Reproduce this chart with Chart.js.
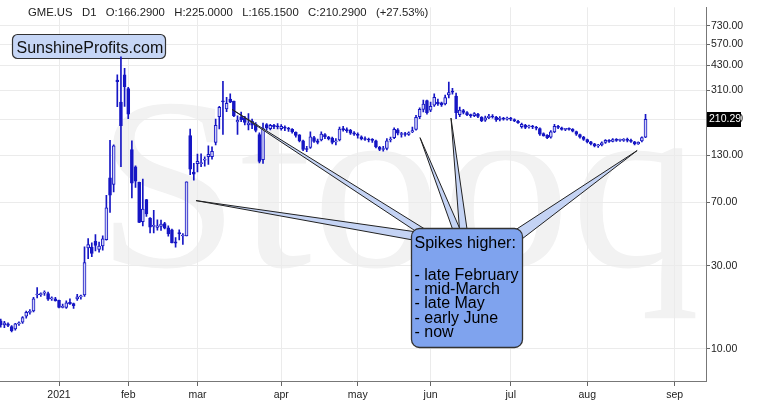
<!DOCTYPE html>
<html>
<head>
<meta charset="utf-8">
<script src="https://cdn.jsdelivr.net/npm/chart.js@4.4.0/dist/chart.umd.min.js"></script>
<style>
  html, body { margin: 0; padding: 0; background: #fff; }
</style>
</head>
<body>
<canvas id="chart" width="765" height="411"></canvas>
<script>
// GME.US D1 - candles (Dec 9 2020 .. Aug 24 2021)
const dates = [
  '2020-12-09','2020-12-10','2020-12-11','2020-12-14','2020-12-15','2020-12-16','2020-12-17','2020-12-18',
  '2020-12-21','2020-12-22','2020-12-23','2020-12-24','2020-12-28','2020-12-29','2020-12-30','2020-12-31',
  '2021-01-04','2021-01-05','2021-01-06','2021-01-07','2021-01-08','2021-01-11','2021-01-12','2021-01-13',
  '2021-01-14','2021-01-15','2021-01-19','2021-01-20','2021-01-21','2021-01-22','2021-01-25','2021-01-26',
  '2021-01-27','2021-01-28','2021-01-29','2021-02-01','2021-02-02','2021-02-03','2021-02-04','2021-02-05',
  '2021-02-08','2021-02-09','2021-02-10','2021-02-11','2021-02-12','2021-02-16','2021-02-17','2021-02-18',
  '2021-02-19','2021-02-22','2021-02-23','2021-02-24','2021-02-25','2021-02-26','2021-03-01','2021-03-02',
  '2021-03-03','2021-03-04','2021-03-05','2021-03-08','2021-03-09','2021-03-10','2021-03-11','2021-03-12',
  '2021-03-15','2021-03-16','2021-03-17','2021-03-18','2021-03-19','2021-03-22','2021-03-23','2021-03-24',
  '2021-03-25','2021-03-26','2021-03-29','2021-03-30','2021-03-31','2021-04-01','2021-04-05','2021-04-06',
  '2021-04-07','2021-04-08','2021-04-09','2021-04-12','2021-04-13','2021-04-14','2021-04-15','2021-04-16',
  '2021-04-19','2021-04-20','2021-04-21','2021-04-22','2021-04-23','2021-04-26','2021-04-27','2021-04-28',
  '2021-04-29','2021-04-30','2021-05-03','2021-05-04','2021-05-05','2021-05-06','2021-05-07','2021-05-10',
  '2021-05-11','2021-05-12','2021-05-13','2021-05-14','2021-05-17','2021-05-18','2021-05-19','2021-05-20',
  '2021-05-21','2021-05-24','2021-05-25','2021-05-26','2021-05-27','2021-05-28','2021-06-01','2021-06-02',
  '2021-06-03','2021-06-04','2021-06-07','2021-06-08','2021-06-09','2021-06-10','2021-06-11','2021-06-14',
  '2021-06-15','2021-06-16','2021-06-17','2021-06-18','2021-06-21','2021-06-22','2021-06-23','2021-06-24',
  '2021-06-25','2021-06-28','2021-06-29','2021-06-30','2021-07-01','2021-07-02','2021-07-06','2021-07-07',
  '2021-07-08','2021-07-09','2021-07-12','2021-07-13','2021-07-14','2021-07-15','2021-07-16','2021-07-19',
  '2021-07-20','2021-07-21','2021-07-22','2021-07-23','2021-07-26','2021-07-27','2021-07-28','2021-07-29',
  '2021-07-30','2021-08-02','2021-08-03','2021-08-04','2021-08-05','2021-08-06','2021-08-09','2021-08-10',
  '2021-08-11','2021-08-12','2021-08-13','2021-08-16','2021-08-17','2021-08-18','2021-08-19','2021-08-20',
  '2021-08-23','2021-08-24'
];
const opens = [
  14.5,13.7,13.9,13.4,13.0,13.9,14.2,15.4, 16.2,16.5,20.4,20.5,20.9,20.8,19.4,19.4,
  19.0,17.3,17.3,18.5,18.2,19.4,19.9,20.4, 38.1,38.5,41.6,37.4,39.2,42.6,96.7,88.6,
  354.8,265.0,379.7,316.6,140.8,112.0,91.2,54.0, 72.4,56.6,50.8,50.0,50.8,52.7,49.8,48.5,
  41.3,46.7,44.7,44.7,169.6,104.5,116.9,116.9, 122.5,128.2,128.2,154.9,217.7,269.4,241.6,275.0,
  268.0,203.2,217.8,214.0,195.7,205.3,197.5,172.0, 123.0,196.0,186.0,194.0,193.0,186.0,190.0,187.0,
  184.0,177.0,171.0,158.0,142.0,145.0,165.0,158.0, 160.0,172.0,166.0,164.0,156.0,160.0,186.0,183.0,
  182.0,176.0,173.0,167.0,163.0,161.0,160.0,158.0, 145.0,141.0,143.0,160.0,165.0,183.0,172.0,173.0,
  172.0,178.0,184.0,218.0,240.0,270.0,238.0,254.0, 265.0,262.0,258.0,291.0,304.0,287.0,224.0,236.0,
  230.0,224.0,221.0,226.0,216.0,208.0,215.0,220.0, 217.0,210.0,214.0,211.0,213.0,210.0,205.0,191.0,
  194.0,190.0,192.0,189.0,186.0,174.0,170.0,166.0, 178.0,191.0,188.0,184.0,185.0,184.0,179.0,172.0,
  166.0,161.0,156.0,152.0,148.0,150.0,155.0,159.0, 157.0,161.0,159.0,159.0,161.0,159.0,156.0,152.0,
  158.0,166.29
];
const highs = [
  14.8,14.4,14.1,13.6,14.0,14.3,15.3,16.5, 16.8,19.8,22.5,21.0,21.6,21.2,19.9,19.8,
  19.1,18.1,18.9,19.4,18.3,20.6,20.4,38.7, 43.1,40.8,45.5,41.2,44.8,76.8,159.2,150.0,
  380.0,483.0,414.0,322.0,158.0,113.4,91.5,95.0, 72.7,57.0,62.8,55.3,55.2,53.5,51.2,48.9,
  43.8,48.5,46.2,91.7,184.7,117.2,132.8,133.2, 127.9,147.9,146.0,210.9,249.9,348.5,281.5,295.5,
  268.0,220.7,231.5,218.9,227.0,210.9,201.7,176.0, 200.0,199.0,197.0,197.0,199.0,196.0,193.0,189.0,
  186.0,178.0,172.0,160.0,147.0,178.0,168.0,162.0, 178.0,174.0,168.0,166.0,163.0,190.0,192.0,188.0,
  184.0,179.0,176.0,169.0,167.0,164.0,163.0,160.0, 147.0,147.0,163.0,166.0,188.0,186.0,177.0,177.0,
  178.0,190.0,222.0,245.0,272.0,272.0,265.0,295.0, 275.0,265.0,290.0,345.0,318.0,298.0,248.0,240.0,
  233.0,226.0,230.0,228.0,218.0,220.0,225.0,224.0, 219.0,218.0,216.0,217.0,216.0,212.0,208.0,200.0,
  197.0,195.0,194.0,192.0,188.0,176.0,172.0,181.0, 197.0,194.0,190.0,187.0,188.0,186.0,180.0,173.0,
  168.0,162.0,157.0,153.0,151.0,156.0,161.0,161.0, 163.0,163.0,162.0,163.0,164.0,162.0,157.0,156.0,
  167.0,225.0
];
const lows = [
  13.3,13.2,13.4,12.5,12.8,13.6,14.0,15.0, 15.8,16.3,19.6,20.0,20.3,19.0,19.0,18.8,
  17.2,17.2,17.1,18.0,17.1,19.0,19.3,20.0, 33.1,34.0,36.6,36.1,37.0,42.3,61.1,80.2,
  249.0,112.3,250.0,212.0,74.2,85.3,53.3,51.1, 58.0,46.5,46.6,48.2,48.1,49.0,44.6,40.7,
  38.5,42.4,40.0,44.7,101.0,93.7,104.5,112.2, 113.0,115.7,124.0,150.0,185.2,172.4,232.6,262.3,
  218.1,172.4,204.0,195.7,182.7,186.1,178.0,118.0, 117.0,182.0,183.0,186.0,185.0,182.0,181.0,179.0,
  175.0,166.0,156.0,139.0,137.0,143.0,155.0,152.0, 158.0,163.0,160.0,152.0,150.0,158.0,180.0,177.0,
  172.0,170.0,164.0,160.0,159.0,156.0,155.0,144.0, 139.0,138.0,140.0,156.0,163.0,171.0,166.0,168.0,
  170.0,176.0,182.0,212.0,232.0,225.0,233.0,250.0, 253.0,250.0,255.0,280.0,294.0,212.0,218.0,226.0,
  221.0,216.0,218.0,215.0,204.0,205.0,212.0,214.0, 205.0,206.0,208.0,208.0,207.0,204.0,199.0,187.0,
  186.0,187.0,186.0,183.0,170.0,168.0,163.0,164.0, 176.0,186.0,182.0,181.0,182.0,178.0,170.0,164.0,
  159.0,154.0,150.0,146.0,145.0,148.0,153.0,155.0, 156.0,157.0,157.0,157.0,156.0,155.0,150.0,151.0,
  156.0,165.15
];
const closes = [
  13.7,14.1,13.6,12.7,13.9,14.1,15.1,16.2, 16.4,19.4,20.6,20.7,21.0,19.3,19.5,18.9,
  17.3,17.4,18.4,18.1,17.7,19.9,19.95,31.4, 39.9,35.5,39.4,39.1,43.0,65.0,76.8,148.0,
  347.5,193.6,325.0,225.0,90.0,92.4,53.5,63.8, 60.0,50.3,51.2,51.1,52.4,49.5,45.9,40.7,
  40.6,46.0,45.0,91.7,108.7,101.7,120.4,118.2, 124.2,132.4,137.7,194.5,246.9,265.0,260.0,264.5,
  220.1,208.2,209.8,201.8,200.3,194.5,181.8,120.3, 186.0,188.0,194.0,190.0,190.0,192.0,187.0,184.5,
  178.0,170.0,158.0,141.0,141.0,167.0,157.0,155.0, 173.0,167.0,163.0,155.0,158.0,185.0,183.0,181.0,
  175.0,173.0,170.0,162.0,161.0,160.0,159.0,146.0, 141.0,142.0,158.0,161.0,184.0,175.0,172.0,172.0,
  176.0,181.0,216.0,240.0,258.0,230.0,250.0,282.0, 258.0,255.0,281.0,300.0,302.0,230.0,238.0,231.0,
  224.0,221.0,227.0,219.0,207.0,215.0,220.0,217.0, 209.0,214.0,211.0,214.0,211.0,206.0,201.0,197.0,
  189.0,193.0,190.0,187.0,173.0,169.0,165.0,178.0, 192.0,189.0,184.0,185.0,184.0,180.0,173.0,166.0,
  161.0,156.0,152.0,148.0,149.0,154.0,159.0,157.0, 161.0,159.0,160.5,161.0,159.0,157.0,152.0,155.0,
  164.9,210.29
];

// x axis: candle positions of the month ticks (index into the arrays above)
const monthPos = [16, 35, 54, 77, 98, 118, 140, 161, 185];
const monthLabels = ['2021', 'feb', 'mar', 'apr', 'may', 'jun', 'jul', 'aug', 'sep'];
const priceTicks = [10, 30, 70, 130, 210, 310, 430, 570, 730];

// callout
const calloutTitle = 'Spikes higher:';
const calloutItems = ['- late February', '- mid-March', '- late May', '- early June', '- now'];
const spikePos = [53.6, 63.5, 115.1, 123.6, 174.7];
const spikePrice = [71.5, 240, 165, 214, 139];

const BLUE = '#1616c4';
const UP_FILL = '#cfd0f6';

const idx = opens.map((_, i) => i);
const wickData = idx.map(i => ({ x: i, y: [lows[i], highs[i]] }));
const bodyData = idx.map(i => ({ x: i, y: [Math.min(opens[i], closes[i]), Math.max(opens[i], closes[i])] }));
const bodyFill = idx.map(i => closes[i] >= opens[i] ? UP_FILL : BLUE);

function roundRect(ctx, x, y, w, h, r) {
  ctx.beginPath();
  ctx.moveTo(x + r, y);
  ctx.arcTo(x + w, y, x + w, y + h, r);
  ctx.arcTo(x + w, y + h, x, y + h, r);
  ctx.arcTo(x, y + h, x, y, r);
  ctx.arcTo(x, y, x + w, y, r);
  ctx.closePath();
}

// pixels where each pointer meets the callout box
const box = { x: 411.5, y: 228.5, w: 111, h: 119, r: 8 };
const pointerBase = [
  [424, 233, 424, 242],
  [423, 236, 436, 236],
  [455, 236, 463, 236],
  [460, 236, 468, 236],
  [506, 236, 518, 242]
];

const decor = {
  id: 'decor',
  beforeDraw(chart) {
    const { ctx, chartArea: a } = chart;
    ctx.save();
    ctx.fillStyle = '#fff';
    ctx.fillRect(0, 0, chart.width, chart.height);
    // watermark
    ctx.beginPath();
    ctx.rect(a.left, a.top, a.right - a.left, a.bottom - a.top);
    ctx.clip();
    ctx.font = '245px "Liberation Serif", serif';
    ctx.fillStyle = '#f2f2f2';
    const w = ctx.measureText('Stooq').width;
    ctx.translate(96, 266);
    ctx.scale(604 / w, 1);
    ctx.fillText('Stooq', 0, 0);
    ctx.restore();
  },
  beforeDatasetsDraw(chart) {
    const { ctx } = chart;
    ctx.save();
    // site box sits under the candles
    roundRect(ctx, 12.5, 34.5, 153, 24, 5);
    ctx.fillStyle = '#c6d6f6';
    ctx.fill();
    ctx.strokeStyle = '#333';
    ctx.lineWidth = 1.2;
    ctx.stroke();
    ctx.fillStyle = '#111';
    ctx.font = '16px "Liberation Sans", Arial, sans-serif';
    ctx.fillText('SunshineProfits.com', 16.5, 52.5);

    // header
    const n = closes.length - 1;
    const chg = (closes[n] / closes[n - 1] - 1) * 100;
    const head = 'GME.US   D1   O:' + opens[n].toFixed(4) + '   H:' + highs[n].toFixed(4) +
      '   L:' + lows[n].toFixed(4) + '   C:' + closes[n].toFixed(4) + '   (+' + chg.toFixed(2) + '%)';
    ctx.font = '11.3px "Liberation Sans", Arial, sans-serif';
    ctx.fillStyle = '#222';
    ctx.fillText(head, 28, 16);
    ctx.restore();
  },
  afterDatasetsDraw(chart) {
    const { ctx } = chart;
    const xs = chart.scales.x, ys = chart.scales.y;
    ctx.save();
    // pointers
    spikePos.forEach((p, k) => {
      const ax = xs.getPixelForValue(p), ay = ys.getPixelForValue(spikePrice[k]);
      const b = pointerBase[k];
      ctx.beginPath();
      ctx.moveTo(ax, ay);
      ctx.lineTo(b[0], b[1]);
      ctx.lineTo(b[2], b[3]);
      ctx.closePath();
      ctx.fillStyle = '#c4d3f4';
      ctx.fill();
      ctx.strokeStyle = '#222';
      ctx.lineWidth = 1;
      ctx.stroke();
    });
    // callout box
    roundRect(ctx, box.x, box.y, box.w, box.h, box.r);
    ctx.fillStyle = '#7fa3ee';
    ctx.fill();
    ctx.strokeStyle = '#333';
    ctx.lineWidth = 1.3;
    ctx.stroke();
    ctx.fillStyle = '#000';
    ctx.font = '16px "Liberation Sans", Arial, sans-serif';
    ctx.textBaseline = 'alphabetic';
    ctx.fillText(calloutTitle, 414.5, 248);
    calloutItems.forEach((t, k) => ctx.fillText(t, 414.5, 280 + k * 14.2));
    ctx.restore();
  },
  afterDraw(chart) {
    const { ctx } = chart;
    const ys = chart.scales.y;
    const n = closes.length - 1;
    const y = ys.getPixelForValue(closes[n]);
    ctx.save();
    ctx.fillStyle = '#000';
    ctx.fillRect(707, Math.round(y) - 7, 34, 15);
    ctx.fillStyle = '#fff';
    ctx.font = '10.5px "Liberation Sans", Arial, sans-serif';
    ctx.textBaseline = 'middle';
    ctx.fillText(closes[n].toFixed(2), 709, Math.round(y) + 0.5);
    ctx.restore();
  }
};

Chart.defaults.font.family = '"Liberation Sans", Arial, sans-serif';

new Chart(document.getElementById('chart').getContext('2d'), {
  type: 'bar',
  data: {
    datasets: [
      {
        label: 'body',
        data: bodyData,
        backgroundColor: bodyFill,
        borderColor: BLUE,
        borderWidth: 1,
        borderSkipped: false,
        barThickness: 3,
        minBarLength: 1,
        grouped: false,
        order: 0
      },
      {
        label: 'wick',
        data: wickData,
        backgroundColor: BLUE,
        borderWidth: 0,
        barThickness: 1,
        grouped: false,
        order: 1
      }
    ]
  },
  options: {
    responsive: false,
    animation: false,
    layout: { padding: 0 },
    plugins: { legend: { display: false }, tooltip: { enabled: false } },
    scales: {
      x: {
        type: 'linear',
        min: -0.2,
        max: 193.6,
        offset: false,
        grid: { offset: false, color: '#ebebeb', tickLength: 5, tickColor: '#666' },
        border: { color: '#777' },
        ticks: {
          autoSkip: false,
          maxRotation: 0,
          color: '#222',
          font: { size: 10.5 },
          padding: 3,
          callback: v => monthLabels[monthPos.indexOf(v)] ?? ''
        },
        afterBuildTicks: s => { s.ticks = monthPos.map(v => ({ value: v })); },
        afterFit: s => { s.height = 30; }
      },
      y: {
        type: 'logarithmic',
        position: 'right',
        min: 6.51,
        max: 932,
        grid: { color: '#ebebeb', tickLength: 4, tickColor: '#666' },
        border: { color: '#777' },
        ticks: {
          color: '#222',
          font: { size: 10.5 },
          padding: 1,
          callback: v => Number(v).toFixed(2)
        },
        afterBuildTicks: s => { s.ticks = priceTicks.map(v => ({ value: v })); },
        afterFit: s => { s.width = 59; }
      }
    }
  },
  plugins: [decor]
});
</script>
</body>
</html>
